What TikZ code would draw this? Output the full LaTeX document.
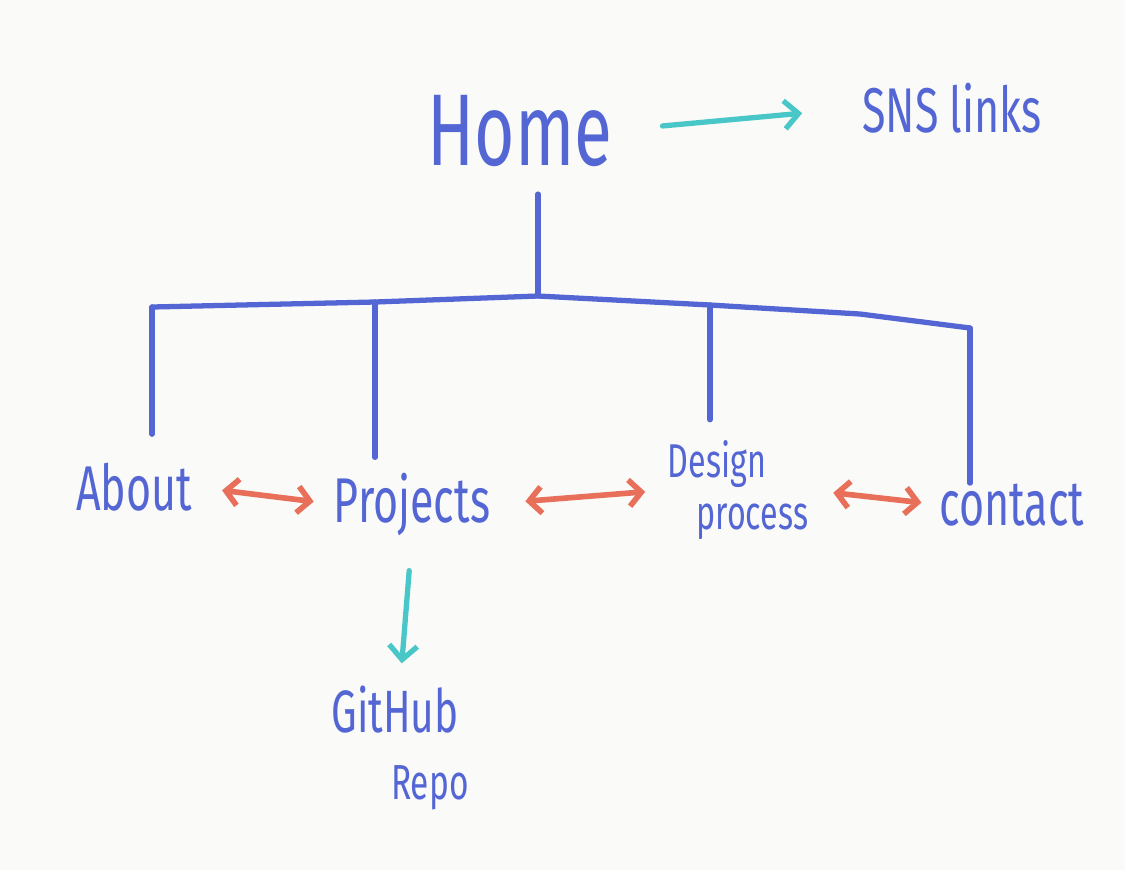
\documentclass[tikz,border=0pt]{standalone}
\usepackage{fontspec}
\setmainfont[FakeStretch=0.68]{Fira Sans}
\usepackage{xcolor}
\usetikzlibrary{positioning, arrows.meta, calc}
\definecolor{ink}{RGB}{84,102,212}
\definecolor{sea}{RGB}{72,198,200}
\definecolor{coral}{RGB}{232,112,90}
\definecolor{paper}{RGB}{250,250,248}

\begin{document}
\begin{tikzpicture}[x=0.02cm, y=-0.02cm, line cap=round,
        page/.style={text=ink, inner sep=0pt},
        tree/.style={draw=ink, line width=3pt},
        nav/.style={draw=sea, line width=3pt, -{Straight Barb[length=8pt, width=16pt]}},
        link/.style={draw=coral, line width=3.2pt,
            {Straight Barb[length=7pt, width=15pt]}-{Straight Barb[length=7pt, width=15pt]}}]
        \fill[paper] (0,0) rectangle (1125,870);
        \useasboundingbox (0,0) rectangle (1125,870);

        \node[page, anchor=base, font=\fontsize{58}{62}\selectfont] (home) at (520,165) {Home};
        \node[page, anchor=base, font=\fontsize{36}{40}\selectfont] (sns)  at (952,132) {SNS links};
        \node[page, anchor=base, font=\fontsize{36}{40}\selectfont] (about) at (134,510) {About};
        \node[page, anchor=base, font=\fontsize{36}{40}\selectfont] (projects) at (412,522) {Projects};
        \node[page, align=left, font=\fontsize{27}{30}\selectfont]
              (design) at (738,490) {Design\\\hspace*{0.6em}process};
        \node[page, anchor=base, font=\fontsize{36}{40}\selectfont] (contact) at (1012,525) {contact};
        \node[page, align=left, font=\fontsize{34}{38}\selectfont]
              (github) at (400,748) {GitHub\\\hspace*{1.0em}{\fontsize{28}{30}\selectfont Repo}};

        \coordinate (bA)  at (152,307);
        \coordinate (bP)  at (375,302);
        \coordinate (hub) at (538,296);
        \coordinate (bD)  at (710,305);
        \coordinate (bC)  at (970,328);

        % Menu bar
        \draw[tree, shorten <=0.55cm] (home.south -| hub) -- (hub);
        \draw[tree] (bA) -- (bP) -- (hub) -- (bD) -- (860,314) -- (bC);
        \draw[tree, shorten >=0.56cm] (bA) -- (bA |- about.north);
        \draw[tree, shorten >=0.3cm]  (bP) -- (bP |- projects.north);
        \draw[tree, shorten >=0.4cm]  (bD) -- (bD |- design.north);
        \draw[tree]                   (bC) -- (bC |- contact.north);

        \draw[nav, shorten <=1cm, shorten >=1.2cm] (home.east) -- (sns.west);
        \draw[nav, shorten <=0.7cm, shorten >=0.45cm] (projects.south) -- (github.north);

        % Links between pages
        \draw[link, shorten <=0.6cm, shorten >=0.4cm] (about.east) -- (projects.west);
        \draw[link, shorten <=0.7cm, shorten >=0.45cm] (projects.east) -- (design.west);
        \draw[link, shorten <=0.5cm, shorten >=0.36cm] (design.east) -- (contact.west);
    \end{tikzpicture}
\end{document}
